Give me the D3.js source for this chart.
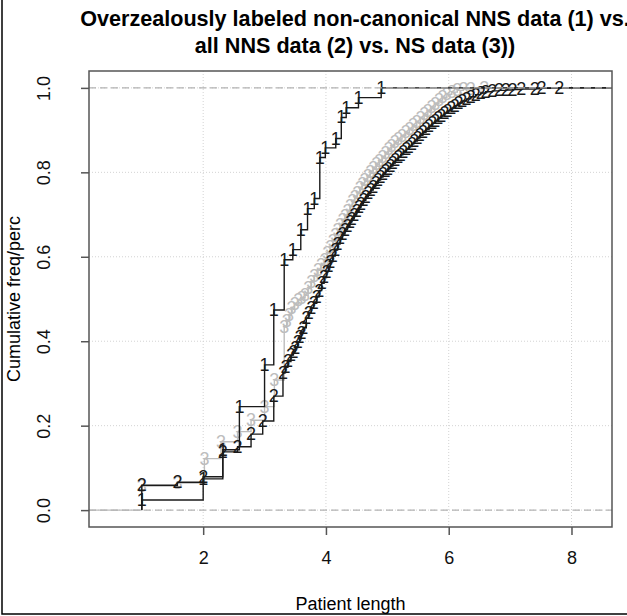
<!DOCTYPE html>
<html>
<head>
<style>
body { margin: 0; background: white; }
svg text { font-family: 'Liberation Sans', Arial, sans-serif; }
</style>
</head>
<body>
<svg id='ecdf'></svg>

<script src="https://cdn.jsdelivr.net/npm/d3@7"></script>
<script>
IMG_SIZE = [627, 616]

// overzealously labeled non-canonical NNS (1)
var s1Knots = [1.0, 2.0, 2.32, 2.59, 3.0, 3.15, 3.32, 3.46, 3.59, 3.70, 3.81, 3.90, 3.99, 4.16, 4.25, 4.33, 4.53, 4.90]
var s1Cum   = [0.024, 0.074, 0.143, 0.245, 0.344, 0.474, 0.593, 0.617, 0.664, 0.714, 0.738, 0.835, 0.858, 0.880, 0.930, 0.953, 0.977, 1.0]

// all NNS (2)
var s2Knots = [1.00, 1.58, 2.00, 2.32, 2.56, 2.78, 2.97, 3.15, 3.30, 3.34, 3.38, 3.43, 3.47, 3.50, 3.54, 3.57, 3.60, 3.63,
               3.68, 3.72, 3.76, 3.80, 3.85, 3.89, 3.93, 3.97, 4.01, 4.04, 4.07, 4.11, 4.15, 4.19, 4.23, 4.27, 4.31, 4.35,
               4.39, 4.42, 4.46, 4.50, 4.54, 4.57, 4.61, 4.65, 4.69, 4.73, 4.77, 4.81, 4.85, 4.89, 4.93, 4.97, 5.01, 5.05,
               5.09, 5.13, 5.18, 5.22, 5.26, 5.31, 5.35, 5.40, 5.44, 5.49, 5.53, 5.58, 5.63, 5.68, 5.73, 5.78, 5.83, 5.88,
               5.93, 5.98, 6.04, 6.10, 6.16, 6.22, 6.29, 6.36, 6.44, 6.52, 6.60, 6.71, 6.82, 6.93, 7.04, 7.18, 7.40, 7.51, 7.80]
var s2Cum   = [0.059, 0.066, 0.079, 0.138, 0.150, 0.180, 0.211, 0.270, 0.325, 0.338, 0.352, 0.367, 0.375, 0.385, 0.398, 0.410, 0.420, 0.432,
               0.454, 0.466, 0.478, 0.490, 0.505, 0.520, 0.537, 0.551, 0.565, 0.577, 0.588, 0.602, 0.616, 0.630, 0.644, 0.654, 0.664, 0.672,
               0.682, 0.690, 0.699, 0.708, 0.717, 0.725, 0.734, 0.742, 0.750, 0.758, 0.766, 0.774, 0.782, 0.789, 0.796, 0.803, 0.809, 0.815,
               0.822, 0.829, 0.836, 0.842, 0.849, 0.855, 0.861, 0.868, 0.874, 0.881, 0.888, 0.895, 0.902, 0.909, 0.916, 0.922, 0.928, 0.934,
               0.940, 0.946, 0.952, 0.958, 0.964, 0.969, 0.974, 0.979, 0.984, 0.988, 0.991, 0.993, 0.994, 0.995, 0.996, 0.997, 0.998, 0.999, 1.0]

// NS (3)
var s3Knots = [1.00, 1.58, 2.02, 2.29, 2.56, 2.78, 3.00, 3.16, 3.32, 3.36, 3.40, 3.44, 3.49, 3.55, 3.60, 3.66, 3.71, 3.76,
               3.81, 3.87, 3.92, 3.98, 4.02, 4.07, 4.11, 4.15, 4.19, 4.23, 4.27, 4.31, 4.35, 4.39, 4.43, 4.47, 4.51, 4.55,
               4.59, 4.63, 4.68, 4.72, 4.77, 4.82, 4.87, 4.92, 4.97, 5.02, 5.07, 5.12, 5.18, 5.24, 5.30, 5.36, 5.42, 5.48,
               5.54, 5.60, 5.66, 5.72, 5.78, 5.84, 5.90, 5.97, 6.05, 6.14, 6.24, 6.36, 6.58]
var s3Cum   = [0.057, 0.064, 0.122, 0.162, 0.186, 0.213, 0.245, 0.308, 0.434, 0.448, 0.462, 0.478, 0.488, 0.498, 0.503, 0.509, 0.525, 0.541,
               0.555, 0.569, 0.580, 0.592, 0.608, 0.624, 0.638, 0.652, 0.664, 0.675, 0.686, 0.697, 0.709, 0.720, 0.731, 0.742, 0.752, 0.762,
               0.772, 0.782, 0.792, 0.801, 0.810, 0.819, 0.828, 0.837, 0.846, 0.855, 0.863, 0.871, 0.879, 0.887, 0.895, 0.903, 0.911, 0.919,
               0.928, 0.937, 0.946, 0.955, 0.963, 0.971, 0.978, 0.985, 0.990, 0.994, 0.997, 0.998, 1.0]

var xTicks = [2, 4, 6, 8]
var yTicks = [0, 0.2, 0.4, 0.6, 0.8, 1.0]

var MARGIN = {left: 89, right: 612, top: 71, bottom: 527}

var x = d3.scaleLinear().domain([0.14, 8.66]).range([MARGIN.left, MARGIN.right])
var y = d3.scaleLinear().domain([-0.04, 1.04]).range([MARGIN.bottom, MARGIN.top])

var svg = d3.select('#ecdf')
	.attr('width', IMG_SIZE[0])
	.attr('height', IMG_SIZE[1])

svg.append('rect')
	.attr('x', 0).attr('y', 0)
	.attr('width', IMG_SIZE[0]).attr('height', IMG_SIZE[1])
	.style('fill', 'white')

svg.append('defs').append('clipPath').attr('id', 'plotClip')
	.append('rect')
	.attr('x', MARGIN.left).attr('y', MARGIN.top)
	.attr('width', MARGIN.right - MARGIN.left)
	.attr('height', MARGIN.bottom - MARGIN.top)

// grid
svg.append('g').selectAll('line').data(xTicks).enter().append('line')
	.attr('x1', function(d){return x(d)}).attr('x2', function(d){return x(d)})
	.attr('y1', MARGIN.top).attr('y2', MARGIN.bottom)
	.style('stroke', '#d3d3d3').style('stroke-dasharray', '1,2')

svg.append('g').selectAll('line').data(yTicks).enter().append('line')
	.attr('x1', MARGIN.left).attr('x2', MARGIN.right)
	.attr('y1', function(d){return y(d)}).attr('y2', function(d){return y(d)})
	.style('stroke', '#d3d3d3').style('stroke-dasharray', '1,2')

// step function path, verticals drawn; only one series draws the F=0 lead-in
function stepPath(knots, cum, leadIn) {
	var xl = x.domain()
	var d = leadIn ? 'M ' + x(xl[0] - 1) + ' ' + y(0) + ' L ' + x(knots[0]) + ' ' + y(0)
	               : 'M ' + x(knots[0]) + ' ' + y(0)
	d += ' L ' + x(knots[0]) + ' ' + y(cum[0])
	for (var i = 1; i < knots.length; i++) {
		d += ' L ' + x(knots[i]) + ' ' + y(cum[i-1]) + ' L ' + x(knots[i]) + ' ' + y(cum[i])
	}
	d += ' L ' + x(xl[1] + 1) + ' ' + y(cum[cum.length-1])
	return d
}

function drawSeries(knots, cum, label, colour, leadIn) {
	var g = svg.append('g').attr('clip-path', 'url(#plotClip)')
	g.append('path')
		.attr('d', stepPath(knots, cum, leadIn))
		.style('fill', 'none')
		.style('stroke', colour)
		.style('stroke-width', 1.4)
	g.selectAll('text').data(knots).enter().append('text')
		.attr('x', function(d){return x(d)})
		.attr('y', function(d, i){return y(cum[i])})
		.attr('text-anchor', 'middle')
		.attr('dominant-baseline', 'central')
		.attr('font-size', 18)
		.style('fill', colour)
		.text(label)
}

drawSeries(s3Knots, s3Cum, '3', '#bdbdbd', true)
drawSeries(s2Knots, s2Cum, '2', '#1a1a1a', false)
drawSeries(s1Knots, s1Cum, '1', '#1a1a1a', false)

// 0 / 1 reference lines
svg.append('g').selectAll('line').data([0, 1]).enter().append('line')
	.attr('x1', MARGIN.left).attr('x2', MARGIN.right)
	.attr('y1', function(d){return y(d)}).attr('y2', function(d){return y(d)})
	.style('stroke', '#b3b3b3').style('stroke-width', 1.3).style('stroke-dasharray', '7,4')

// box
svg.append('rect')
	.attr('x', MARGIN.left).attr('y', MARGIN.top)
	.attr('width', MARGIN.right - MARGIN.left)
	.attr('height', MARGIN.bottom - MARGIN.top)
	.style('fill', 'none').style('stroke', '#555').style('stroke-width', 1.5)

// axes
var xAxis = d3.axisBottom(x).tickValues(xTicks).tickSize(8).tickPadding(16).tickFormat(d3.format('d'))
svg.append('g').attr('transform', 'translate(0,' + MARGIN.bottom + ')').call(xAxis)
	.call(function(g){ g.select('.domain').remove() })

var yAxis = d3.axisLeft(y).tickValues(yTicks).tickSize(8).tickFormat(d3.format('.1f'))
var yg = svg.append('g').attr('transform', 'translate(' + MARGIN.left + ',0)').call(yAxis)
	.call(function(g){ g.select('.domain').remove() })
yg.selectAll('.tick text')
	.attr('x', null).attr('dy', '0.35em')
	.attr('text-anchor', 'middle')
	.attr('transform', 'translate(-45,0) rotate(-90)')

svg.selectAll('.tick line').style('stroke', '#555').style('stroke-width', 1.5)
svg.selectAll('.tick text').attr('font-size', 18).style('font-family', "'Liberation Sans', Arial, sans-serif").style('fill', '#111')

// labels
svg.append('text')
	.attr('x', (MARGIN.left + MARGIN.right) / 2).attr('y', 610)
	.attr('text-anchor', 'middle').attr('font-size', 18)
	.text('Patient length')

svg.append('text')
	.attr('transform', 'translate(20,' + (MARGIN.top + MARGIN.bottom) / 2 + ') rotate(-90)')
	.attr('text-anchor', 'middle').attr('font-size', 18)
	.text('Cumulative freq/perc')

svg.append('text')
	.attr('x', 355).attr('y', 26)
	.attr('text-anchor', 'middle').attr('font-size', 21.6).attr('font-weight', 'bold')
	.text('Overzealously labeled non-canonical NNS data (1) vs.')
svg.append('text')
	.attr('x', 355).attr('y', 53)
	.attr('text-anchor', 'middle').attr('font-size', 21.6).attr('font-weight', 'bold')
	.text('all NNS data (2) vs. NS data (3))')

// outer frame
svg.append('path')
	.attr('d', 'M 2 0 L 2 614 L 627 614')
	.style('fill', 'none').style('stroke', '#000').style('stroke-width', 1.5)
</script>
</body>
</html>
